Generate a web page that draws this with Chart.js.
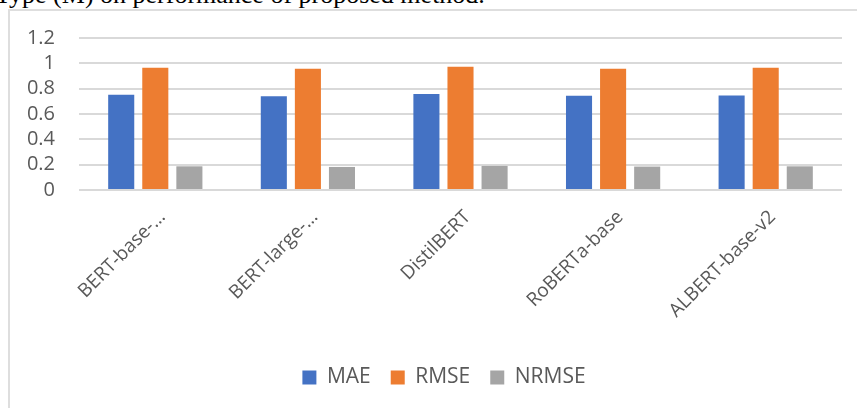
<!DOCTYPE html>
<html>
<head>
<meta charset="utf-8">
<script src="https://cdn.jsdelivr.net/npm/chart.js@4.4.1/dist/chart.umd.min.js"></script>
<style>
  html, body { margin: 0; padding: 0; background: #fff; overflow: hidden; }
  #caption {
    position: absolute; left: -5px; top: -18px; white-space: nowrap;
    font: 26px/26px "Liberation Serif", "Times New Roman", serif; color: #000;
  }
  #frame {
    position: absolute; left: 8px; top: 9px; width: 900px; height: 450px;
    border: 2px solid #dedede; box-sizing: border-box;
  }
  #wrap { position: absolute; left: 0; top: 0; width: 857px; height: 408px; }
</style>
</head>
<body>
<div id="caption">Type (M) on performance of proposed method.</div>
<div id="frame"></div>
<div id="wrap"><canvas id="chart"></canvas></div>
<script>
const models = ["BERT-base-…", "BERT-large-…", "DistilBERT", "RoBERTa-base", "ALBERT-base-v2"];
const mae = [0.752, 0.741, 0.757, 0.744, 0.746];
const rmse = [0.965, 0.957, 0.973, 0.957, 0.965];
const nrmse = [0.187, 0.182, 0.190, 0.185, 0.187];
const yTicks = [0, 0.2, 0.4, 0.6, 0.8, 1, 1.2];

const textColor = "#595959";
const gridColor = "#d9d9d9";
const fontFamily = "'Open Sans', sans-serif";

// legend sits centred under the whole frame, a bit right of the canvas centre
const legendShift = {
  id: "legendShift",
  afterLayout(chart) {
    chart.legend.left += 23;
    chart.legend.right += 23;
  }
};

new Chart(document.getElementById("chart"), {
  type: "bar",
  data: {
    labels: models,
    datasets: [
      { label: "MAE", data: mae, backgroundColor: "#4472C4" },
      { label: "RMSE", data: rmse, backgroundColor: "#ED7D31" },
      { label: "NRMSE", data: nrmse, backgroundColor: "#A5A5A5" }
    ]
  },
  plugins: [legendShift],
  options: {
    responsive: true,
    maintainAspectRatio: false,
    animation: false,
    categoryPercentage: 0.67,
    barPercentage: 0.765,
    layout: { padding: { left: 0, right: 15, top: 38, bottom: 10 } },
    plugins: {
      tooltip: { enabled: false },
      legend: {
        position: "bottom",
        labels: {
          color: textColor,
          font: { family: fontFamily, size: 21 },
          boxWidth: 14,
          boxHeight: 14,
          padding: 20
        }
      }
    },
    scales: {
      x: {
        grid: { display: false },
        border: { display: false },
        ticks: {
          color: textColor,
          font: { family: fontFamily, size: 19 },
          minRotation: 45,
          maxRotation: 45,
          autoSkip: false,
          padding: 8,
          labelOffset: 7
        },
        afterFit: (scale) => { scale.height = 157; }
      },
      y: {
        min: 0,
        max: 1.2,
        afterBuildTicks: (scale) => { scale.ticks = yTicks.map(v => ({ value: v })); },
        ticks: {
          autoSkip: false,
          color: textColor,
          font: { family: fontFamily, size: 20 },
          padding: 24,
          callback: (v) => String(v)
        },
        grid: { color: gridColor, lineWidth: 2, drawTicks: false },
        border: { display: false },
        afterFit: (scale) => { scale.width = 79; }
      }
    }
  }
});
</script>
</body>
</html>
